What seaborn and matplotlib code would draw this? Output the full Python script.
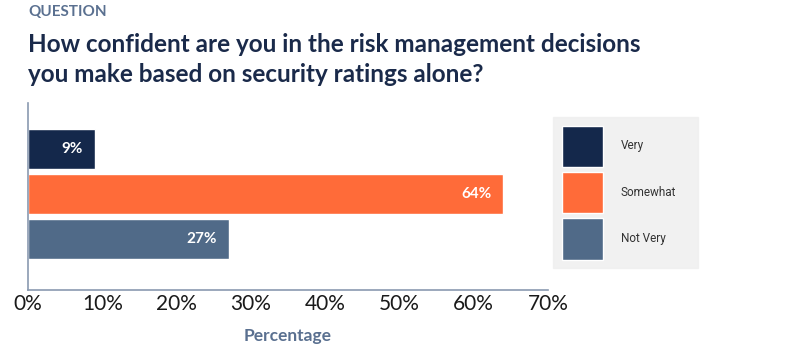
import matplotlib
matplotlib.use("Agg")
import matplotlib.pyplot as plt
import seaborn as sns
import pandas as pd
from matplotlib.patches import Patch

categories = ["Very", "Somewhat", "Not Very"]
values = [9, 64, 27]
colors = ["#14284b", "#ff6b39", "#506a88"]
ticks = [0, 10, 20, 30, 40, 50, 60, 70]
tick_labels = [f"{t}%" for t in ticks]

sns.set_theme(style="white")
plt.rcParams['font.family'] = ['Lato', 'DejaVu Sans']

df = pd.DataFrame({"Response": categories, "Percentage": values})

fig = plt.figure(figsize=(8, 3.58), dpi=100)
ax = fig.add_axes([0.035, 0.19, 0.65, 0.522])
sns.barplot(data=df, y="Response", x="Percentage", hue="Response",
            palette=colors, orient="h", width=0.9, ax=ax, legend=False,
            saturation=1)

for p, v in zip(ax.patches, values):
    ax.text(p.get_x() + p.get_width() - 1.6, p.get_y() + p.get_height() / 2,
            f"{v}%", color="white", fontsize=11, fontweight="bold",
            ha="right", va="center")

ax.set_xlim(0, 70)
ax.set_ylim(3.13, -1.02)
ax.set_xticks(ticks)
ax.set_xticklabels(tick_labels, fontsize=15, color="#1a1a1a", fontweight="normal")
ax.set_yticks([])
ax.set_ylabel("")
ax.set_xlabel("Percentage", fontsize=12.5, fontweight="bold", color="#5a7090", labelpad=10)
ax.tick_params(axis="x", direction="in", length=5, color="#8a9ab0", pad=3, width=1)
sns.despine(ax=ax, top=True, right=True)
for s in ["left", "bottom"]:
    ax.spines[s].set_color("#8a9ab0")
    ax.spines[s].set_linewidth(1.2)

handles = [Patch(facecolor=c, edgecolor="white", label=l) for c, l in zip(colors, categories)]
leg = fig.legend(handles=handles, loc="upper left",
                 bbox_to_anchor=(553/800, 1 - 117/358, 145/800, 0.0001), mode="expand",
                 frameon=True, facecolor="#eeeeee", edgecolor="#eeeeee", fancybox=False,
                 fontsize=8.5, handlelength=3.5, handleheight=5.0, handletextpad=1.5,
                 labelspacing=0.42, borderpad=0.75, borderaxespad=0)
for t in leg.get_texts():
    t.set_color("#333333")
    t.set_family(["Roboto", "DejaVu Sans"])

fig.text(28/800, 1 - 12/358, "QUESTION", fontsize=11, fontweight="bold",
         color="#5a7090", va="center", ha="left")
fig.text(28/800, 1 - 44/358, "How confident are you in the risk management decisions",
         fontsize=17.5, fontweight="bold", color="#1a2a4a", va="center", ha="left")
fig.text(28/800, 1 - 74/358, "you make based on security ratings alone?",
         fontsize=17.5, fontweight="bold", color="#1a2a4a", va="center", ha="left")

fig.savefig("out.png", dpi=100)
